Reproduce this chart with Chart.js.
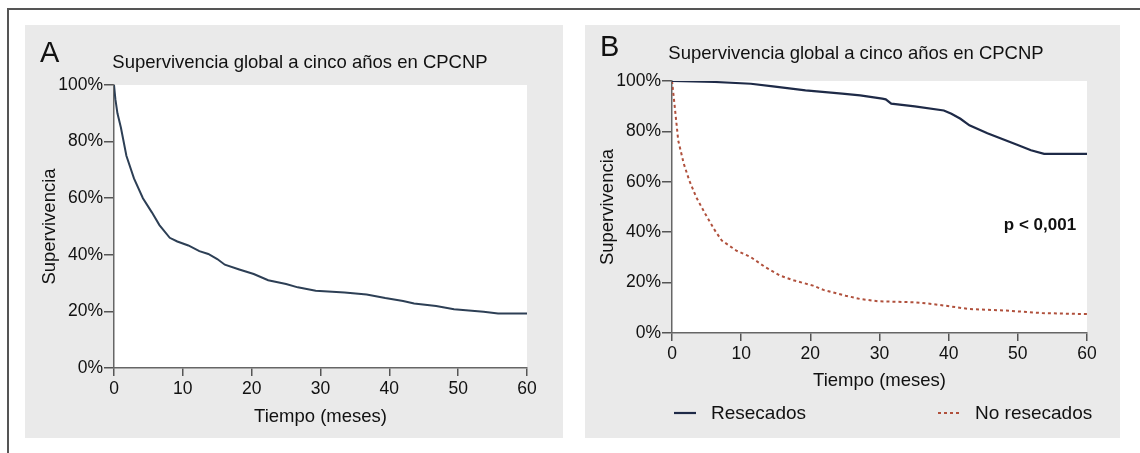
<!DOCTYPE html>
<html lang="es">
<head>
<meta charset="UTF-8">
<title>Supervivencia global a cinco años en CPCNP</title>
<script src="https://cdn.jsdelivr.net/npm/chart.js"></script>
<style>
  body { margin: 0; background: #fff; font-family: "Liberation Sans", Arial, sans-serif; }
  .frame { position: absolute; left: 7px; top: 8px; width: 1140px; height: 460px; border-left: 2px solid #555; border-top: 2px solid #555; }
  .panel { position: absolute; top: 25px; height: 413px; background: #eaeaea; }
  #panelA { left: 25px; width: 538px; }
  #panelB { left: 585px; width: 535px; }
</style>
</head>
<body>
<div class="frame"></div>
<div class="panel" id="panelA"><canvas id="chartA"></canvas></div>
<div class="panel" id="panelB"><canvas id="chartB"></canvas></div>
<script>
// Panel A: supervivencia global (meses, %)
const mesesA = [0, 0.2, 0.5, 1, 1.8, 2.9, 4.2, 5.5, 6.6, 8.1, 9.2, 10.8, 12.4, 13.7, 15, 16.1, 18.2, 20.3, 22.4, 25, 26.7, 29.3, 33.5, 36.7, 39.4, 42, 43.6, 46.8, 49.4, 53.7, 55.8, 60];
const supA   = [100, 95, 90, 85, 75, 67, 60, 55, 50.5, 46, 44.7, 43.3, 41.3, 40.3, 38.5, 36.5, 34.8, 33.2, 31, 29.7, 28.5, 27.3, 26.7, 26, 24.7, 23.7, 22.8, 21.9, 20.8, 19.9, 19.3, 19.3];

// Panel B: resecados
const mesesRes = [0, 6.2, 11.4, 14.6, 19.3, 24.6, 27.2, 30.4, 30.9, 31.7, 35.1, 39.3, 40.4, 41.7, 43, 45.6, 49.8, 51.9, 53.8, 60];
const supRes   = [100, 99.6, 98.9, 97.9, 96.3, 95, 94.3, 93, 92.7, 91, 89.9, 88.3, 87, 85, 82.4, 79.3, 74.8, 72.5, 71.1, 71.1];

// Panel B: no resecados
const mesesNoRes = [0, 0.4, 0.9, 1.7, 2.5, 3.5, 4.8, 6.2, 7.2, 9.3, 11.4, 13.5, 15.6, 17.7, 20.4, 21.9, 25.1, 27.2, 29.8, 35.1, 37.7, 40.4, 43, 48.3, 53.5, 60];
const supNoRes   = [100, 89.7, 76.4, 67.2, 60.5, 53.9, 47.3, 40.7, 36.7, 32.7, 30.1, 26.1, 22.8, 20.8, 18.8, 17.1, 14.8, 13.5, 12.6, 12.2, 11.5, 10.5, 9.5, 8.9, 7.9, 7.5];

const yTicks = [0, 20, 40, 60, 80, 100];
const xTicks = [0, 10, 20, 30, 40, 50, 60];
const titulo = 'Supervivencia global a cinco años en CPCNP';
const FONT = '"Liberation Sans", Arial, sans-serif';

Chart.defaults.font.family = FONT;
Chart.defaults.color = '#111';

const puntos = (xs, ys) => xs.map((x, i) => ({ x: x, y: ys[i] }));

// fondo blanco del area del grafico
const fondoBlanco = {
  id: 'fondoBlanco',
  beforeDraw(chart) {
    const { ctx, chartArea: a } = chart;
    ctx.save();
    ctx.fillStyle = '#fff';
    ctx.fillRect(a.left, a.top, a.right - a.left, a.bottom - a.top);
    ctx.restore();
  }
};

// letra del panel, titulo, p-valor y leyenda
const textos = {
  id: 'textos',
  afterDraw(chart, args, o) {
    const ctx = chart.ctx;
    ctx.save();
    ctx.fillStyle = '#111';
    ctx.textBaseline = 'alphabetic';
    ctx.font = '29px ' + FONT;
    ctx.textAlign = 'left';
    ctx.fillText(o.letra, o.letraX, o.letraY);
    ctx.font = '18.5px ' + FONT;
    ctx.textAlign = 'center';
    ctx.fillText(titulo, o.tituloX, o.tituloY);
    if (o.pValor) {
      const x = chart.scales.x.getPixelForValue(o.pValor.x);
      const y = chart.scales.y.getPixelForValue(o.pValor.y);
      ctx.font = 'bold 17px ' + FONT;
      ctx.textBaseline = 'middle';
      ctx.fillText(o.pValor.text, x, y);
    }
    if (o.leyenda) {
      ctx.textBaseline = 'middle';
      ctx.textAlign = 'left';
      ctx.font = '19px ' + FONT;
      o.leyenda.forEach(item => {
        const ds = chart.data.datasets[item.ds];
        ctx.strokeStyle = ds.borderColor;
        ctx.lineWidth = ds.borderWidth;
        ctx.setLineDash(ds.borderDash || []);
        ctx.beginPath();
        ctx.moveTo(item.x, o.leyendaY);
        ctx.lineTo(item.x + 22, o.leyendaY);
        ctx.stroke();
        ctx.setLineDash([]);
        ctx.fillText(ds.label, item.x + 37, o.leyendaY + 1);
      });
    }
    ctx.restore();
  }
};

function escalas(anchoY, altoX, padTituloX, padTituloY) {
  return {
    x: {
      type: 'linear', min: 0, max: 60,
      afterBuildTicks: s => { s.ticks = xTicks.map(v => ({ value: v })); },
      ticks: { font: { size: 17.5 }, padding: 3, maxRotation: 0, color: '#111' },
      grid: { drawOnChartArea: false, tickLength: 8, color: '#555', lineWidth: 1.5 },
      border: { color: '#666', width: 1.5 },
      title: { display: true, text: 'Tiempo (meses)', font: { size: 18.5 }, color: '#111', padding: { top: 0, bottom: padTituloX } },
      afterFit: s => { s.height = altoX; s.paddingLeft = 0; s.paddingRight = 0; }
    },
    y: {
      min: 0, max: 100,
      afterBuildTicks: s => { s.ticks = yTicks.map(v => ({ value: v })); },
      ticks: { font: { size: 17.5 }, padding: 1, color: '#111', callback: v => v + '%' },
      grid: { drawOnChartArea: false, tickLength: 10, color: '#555', lineWidth: 1.5 },
      border: { color: '#666', width: 1.5 },
      title: { display: true, text: 'Supervivencia', font: { size: 18.5 }, color: '#111', padding: { top: padTituloY, bottom: 0 } },
      afterFit: s => { s.width = anchoY; s.paddingTop = 0; s.paddingBottom = 0; }
    }
  };
}

new Chart(document.getElementById('chartA'), {
  type: 'line',
  data: {
    datasets: [{
      label: 'Global',
      data: puntos(mesesA, supA),
      borderColor: '#2d3f55',
      borderWidth: 2,
      pointRadius: 0,
      tension: 0
    }]
  },
  options: {
    responsive: true,
    maintainAspectRatio: false,
    animation: false,
    layout: { padding: { left: 0, top: 60, right: 36, bottom: 0 } },
    scales: escalas(89, 70, 10, 14),
    plugins: {
      legend: { display: false },
      tooltip: { enabled: false },
      textos: { letra: 'A', letraX: 15, letraY: 37, tituloX: 275, tituloY: 43 }
    }
  },
  plugins: [fondoBlanco, textos]
});

new Chart(document.getElementById('chartB'), {
  type: 'line',
  data: {
    datasets: [{
      label: 'Resecados',
      data: puntos(mesesRes, supRes),
      borderColor: '#1e2a47',
      borderWidth: 2.2,
      pointRadius: 0,
      tension: 0
    }, {
      label: 'No resecados',
      data: puntos(mesesNoRes, supNoRes),
      borderColor: '#b0503c',
      borderWidth: 2,
      borderDash: [3, 3],
      pointRadius: 0,
      tension: 0
    }]
  },
  options: {
    responsive: true,
    maintainAspectRatio: false,
    animation: false,
    layout: { padding: { left: 0, top: 56, right: 33, bottom: 0 } },
    scales: escalas(87, 105, 46, 12),
    plugins: {
      legend: { display: false },
      tooltip: { enabled: false },
      textos: {
        letra: 'B', letraX: 15, letraY: 31, tituloX: 271, tituloY: 34,
        pValor: { text: 'p < 0,001', x: 53.2, y: 42.6 },
        leyendaY: 388,
        leyenda: [{ ds: 0, x: 89 }, { ds: 1, x: 353 }]
      }
    }
  },
  plugins: [fondoBlanco, textos]
});
</script>
</body>
</html>
